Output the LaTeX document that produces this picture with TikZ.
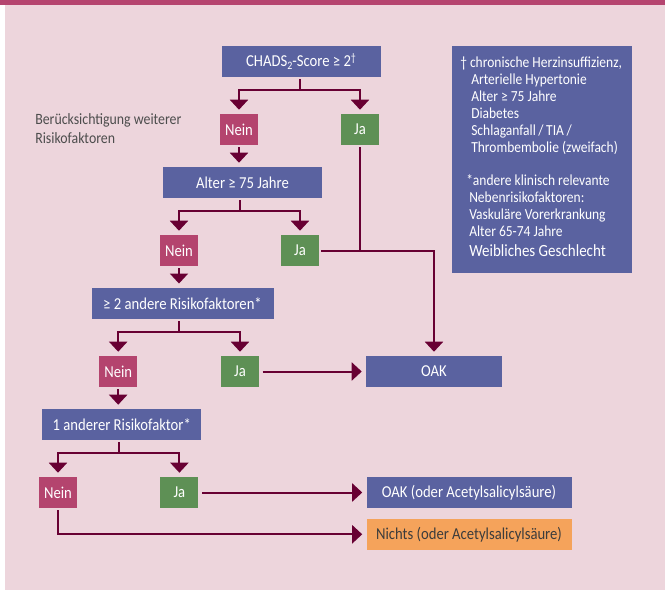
\documentclass[tikz,border=0pt]{standalone}
\usepackage{fontspec}
\setmainfont[FakeStretch=0.88]{Carlito}
\usetikzlibrary{arrows.meta,calc}
\definecolor{bgc}{HTML}{EDD5DC}
\definecolor{barc}{HTML}{B5446F}
\definecolor{bluec}{HTML}{5A62A0}
\definecolor{neinc}{HTML}{B4446E}
\definecolor{jac}{HTML}{5E9055}
\definecolor{orangec}{HTML}{F5A35B}
\definecolor{linec}{HTML}{680033}
\definecolor{labelc}{HTML}{4D4D4D}
\definecolor{nichtsc}{HTML}{3C3C3C}
\newlength\pxu
\setlength\pxu{0.75pt}
\begin{document}
\begin{tikzpicture}[x=0.75pt,y=-0.75pt,
  box/.style={rectangle,inner sep=0pt,minimum height=31\pxu,text=white,
    font=\fontsize{12.5}{14}\selectfont},
  qbox/.style={box,fill=bluec},
  neinbox/.style={box,fill=neinc,minimum width=38\pxu},
  jabox/.style={box,fill=jac,minimum width=38\pxu},
  conn/.style={draw=linec,line width=1.5pt},
  arr/.style={conn,-{Triangle[width=13.5pt,length=7.5pt]},shorten >=3pt},
]
\useasboundingbox (0,0) rectangle (665,590);
\fill[white] (0,0) rectangle (665,590);
\fill[bgc] (5,0) rectangle (665,590);
\fill[barc] (0,0) rectangle (665,5);

% question boxes
\node[qbox,minimum width=159\pxu] (chads) at (301,61.3) {CHADS\raisebox{-0.35ex}{\fontsize{8.5}{9}\selectfont 2}-Score ≥ 2\raisebox{0.6ex}{\fontsize{8.5}{9}\selectfont †}};
\node[neinbox] (nein1) at (239,129.5) {Nein};
\node[jabox] (ja1) at (360,129.5) {Ja};
\node[qbox,minimum width=159\pxu] (alter) at (242.5,182.5) {Alter ≥ 75 Jahre};
\node[neinbox] (nein2) at (179,250.5) {Nein};
\node[jabox] (ja2) at (300,250.5) {Ja};
\node[qbox,minimum width=182\pxu] (ge2) at (182.5,303.3) {≥ 2 andere Risikofaktoren*};
\node[neinbox] (nein3) at (118.2,371.5) {Nein};
\node[jabox] (ja3) at (240,371.5) {Ja};
\node[qbox,minimum width=136\pxu] (oak) at (434,371.5) {OAK};
\node[qbox,minimum width=159\pxu] (one) at (121.7,424.5) {1 anderer Risikofaktor*};
\node[neinbox] (nein4) at (58,492.5) {Nein};
\node[jabox] (ja4) at (179.4,492.5) {Ja};
\node[qbox,minimum width=205\pxu] (oak2) at (469,492.5) {OAK (oder Acetylsalicylsäure)};
\node[box,fill=orangec,text=nichtsc,minimum width=205\pxu] (nichts) at (469,534.3) {Nichts (oder Acetylsalicylsäure)};

% side label
\node[anchor=west,align=left,text=labelc,inner sep=0pt,font=\fontsize{11.8}{14.2}\selectfont] (lbl) at (35,128.5) {Berücksichtigung weiterer\\Risikofaktoren};

% footnote box
\node[rectangle,fill=bluec,minimum width=180\pxu,minimum height=226.7\pxu,inner sep=0pt] (fn) at (542,159.35) {};
\node[anchor=north west,align=left,text=white,inner sep=0pt,font=\fontsize{11.5}{12.7}\selectfont] (fntext) at (460,56.5)
{† chronische Herzinsuffizienz,\\
\hspace*{11\pxu}Arterielle Hypertonie\\
\hspace*{11\pxu}Alter ≥ 75 Jahre\\
\hspace*{11\pxu}Diabetes\\
\hspace*{11\pxu}Schlaganfall\,/\,TIA\,/\\
\hspace*{11\pxu}Thrombembolie (zweifach)\\[12.6pt]
\hspace*{6\pxu}*andere klinisch relevante\\
\hspace*{9\pxu}Nebenrisikofaktoren:\\
\hspace*{9\pxu}Vaskuläre Vorerkrankung\\
\hspace*{9\pxu}Alter 65-74 Jahre\\[2.2pt]
\hspace*{9\pxu}{\fontsize{12.8}{14}\selectfont Weibliches Geschlecht}};

% split points
\coordinate (s1) at ($(nein1.north)!0.5!(ja1.north)$);
\coordinate (s2) at ($(nein2.north)!0.5!(ja2.north)$);
\coordinate (s3) at ($(nein3.north)!0.5!(ja3.north)$);
\coordinate (s4) at ($(nein4.north)!0.5!(ja4.north)$);
\coordinate (k1) at ([yshift=-13\pxu]s1 |- chads.south);
\coordinate (k2) at ([yshift=-13\pxu]s2 |- alter.south);
\coordinate (k3) at ([yshift=-13\pxu]s3 |- ge2.south);
\coordinate (k4) at ([yshift=-13\pxu]s4 |- one.south);

\draw[conn,shorten <=1.5pt] (s1 |- chads.south) -- (k1);
\draw[arr] (k1) -| (nein1.north);
\draw[arr] (k1) -| (ja1.north);
\draw[arr,shorten <=1.5pt] (nein1.south) -- (nein1 |- alter.north);

\draw[conn,shorten <=1.5pt] (s2 |- alter.south) -- (k2);
\draw[arr] (k2) -| (nein2.north);
\draw[arr] (k2) -| (ja2.north);
\draw[arr,shorten <=1.5pt] (nein2.south) -- (nein2 |- ge2.north);

\draw[conn,shorten <=1.5pt] (s3 |- ge2.south) -- (k3);
\draw[arr] (k3) -| (nein3.north);
\draw[arr] (k3) -| (ja3.north);
\draw[arr,shorten <=1.5pt] (nein3.south) -- (nein3 |- one.north);

\draw[conn,shorten <=1.5pt] (s4 |- one.south) -- (k4);
\draw[arr] (k4) -| (nein4.north);
\draw[arr] (k4) -| (ja4.north);

% Ja outcomes
\coordinate (j1) at (ja1 |- ja2.east);
\draw[conn,shorten <=1.5pt] (ja1.south) -- (j1);
\draw[arr,shorten <=1.5pt] (ja2.east) -| (oak.north);
\draw[arr,shorten <=2.5pt] (ja3.east) -- (oak.west);
\draw[arr,shorten <=2.5pt] (ja4.east) -- (oak2.west);
\draw[arr,shorten <=1.5pt] (nein4.south) |- (nichts.west);
\end{tikzpicture}
\end{document}
